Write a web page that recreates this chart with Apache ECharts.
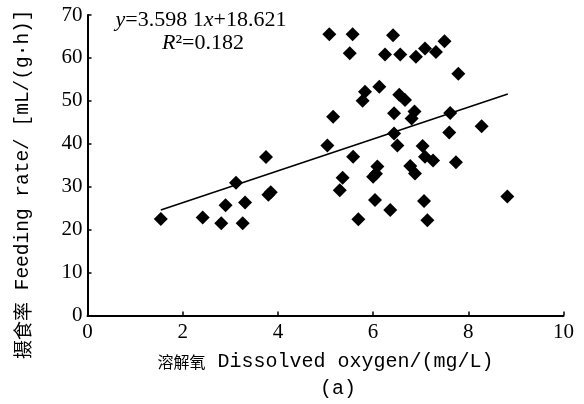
<!DOCTYPE html>
<html><head><meta charset="utf-8">
<script src="https://cdn.jsdelivr.net/npm/echarts@6/dist/echarts.min.js"></script>
<style>html,body{margin:0;padding:0;background:#fff}#c{width:584px;height:404px}</style>
</head><body><div id="c"></div>
<script>
// Dissolved oxygen (mg/L)
const oxygen = [1.54,2.42,2.81,2.90,3.12,3.26,3.31,3.75,3.80,3.85,
  5.08,5.57,6.42,5.51,6.25,6.57,6.90,7.09,7.32,7.50,
  7.79,6.13,5.83,5.78,6.55,6.67,6.44,6.87,6.81,5.16,
  6.44,7.62,7.60,8.28,7.04,5.04,6.51,7.09,5.58,6.09,
  6.00,6.06,6.78,6.88,5.36,5.30,6.04,6.36,5.69,7.07,
  7.14,7.26,7.74,8.82];
// Feeding rate mL/(g·h)
const feeding = [22.5,22.8,21.5,25.7,30.9,21.5,26.3,36.9,28.1,28.7,
  65.5,65.5,65.3,61.1,60.8,60.8,60.3,62.2,61.4,63.9,
  56.3,53.3,52.1,50.0,51.4,50.2,47.1,47.5,45.9,46.3,
  42.4,47.2,42.6,44.1,39.5,39.6,39.6,37.0,37.0,34.7,
  32.3,33.0,34.8,33.1,32.1,29.2,26.9,24.6,22.4,26.7,
  22.2,36.1,35.7,27.7];
// Fitted line end points as drawn
const trendX = [1.54, 8.83];
const trendY = [24.6, 51.6];
const xMin = 0, xMax = 10, xStep = 2;
const yMin = 0, yMax = 70, yStep = 10;
const xName = '溶解氧 Dissolved oxygen/(mg/L)';
const yName = '摄食率 Feeding rate/ [mL/(g·h)]';
const eqLine1 = ['y', '=3.598 1', 'x', '+18.621'];
const eqLine2 = ['R', '²=0.182'];
const panel = '(a)';

const chart = echarts.init(document.getElementById('c'), null, {renderer: 'canvas'});
const serif = 'Liberation Serif';
const mono = 'Liberation Mono';
const cjk = 'Noto Sans CJK SC';

function splitName(s){ const i = s.indexOf(' '); return [s.slice(0,i), s.slice(i)]; }
const [xc, xl] = splitName(xName);
const [yc, yl] = splitName(yName);

const option = {
  animation: false,
  backgroundColor: '#fff',
  grid: {left: 87.5, right: 20.5, top: 15, bottom: 88.5, containLabel: false},
  xAxis: {
    type: 'value', min: xMin, max: xMax, interval: xStep,
    axisLine: {show: true, lineStyle: {color: '#000', width: 2}},
    axisTick: {show: true, inside: true, length: 4, lineStyle: {color: '#000', width: 1.5}},
    axisLabel: {color: '#000', fontFamily: serif, fontSize: 21, margin: 6},
    splitLine: {show: false},
    name: '{c|' + xc + '}{l|' + xl + '}',
    nameLocation: 'middle', nameGap: 35,
    nameTextStyle: {rich: {
      c: {fontFamily: cjk, fontSize: 16, color: '#000', verticalAlign: 'middle', lineHeight: 22},
      l: {fontFamily: mono, fontSize: 20, color: '#000', verticalAlign: 'middle', lineHeight: 22}
    }}
  },
  yAxis: {
    type: 'value', min: yMin, max: yMax, interval: yStep,
    axisLine: {show: true, lineStyle: {color: '#000', width: 2}},
    axisTick: {show: true, inside: true, length: 4, lineStyle: {color: '#000', width: 1.5}},
    axisLabel: {color: '#000', fontFamily: serif, fontSize: 21, margin: 5},
    splitLine: {show: false},
    name: '{c|' + yc + '}{l|' + yl + '}',
    nameLocation: 'middle', nameGap: 54,
    nameTextStyle: {padding: [0, 38, 0, 0], rich: {
      c: {fontFamily: cjk, fontSize: 19, color: '#000', verticalAlign: 'middle', lineHeight: 22},
      l: {fontFamily: mono, fontSize: 19.5, color: '#000', verticalAlign: 'middle', lineHeight: 22}
    }}
  },
  series: [
    {
      type: 'scatter',
      data: oxygen.map((x, i) => [x, feeding[i]]),
      symbol: 'diamond', symbolSize: 14,
      itemStyle: {color: '#000', opacity: 1},
      z: 3
    },
    {
      type: 'line',
      data: trendX.map((x, i) => [x, trendY[i]]),
      showSymbol: false, symbol: 'none',
      lineStyle: {color: '#000', width: 1.6},
      z: 2
    }
  ],
  graphic: [
    {
      type: 'text', x: 201, y: 20,
      style: {
        text: '{i|' + eqLine1[0] + '}{n|' + eqLine1[1] + '}{i|' + eqLine1[2] + '}{n|' + eqLine1[3] + '}',
        align: 'center', verticalAlign: 'middle',
        rich: {
          i: {fontFamily: serif, fontStyle: 'italic', fontSize: 22, fill: '#000'},
          n: {fontFamily: serif, fontSize: 22, fill: '#000'}
        }
      }
    },
    {
      type: 'text', x: 203, y: 43,
      style: {
        text: '{i|' + eqLine2[0] + '}{n|' + eqLine2[1] + '}',
        align: 'center', verticalAlign: 'middle',
        rich: {
          i: {fontFamily: serif, fontStyle: 'italic', fontSize: 22, fill: '#000'},
          n: {fontFamily: serif, fontSize: 22, fill: '#000'}
        }
      }
    },
    {
      type: 'text', x: 338, y: 389,
      style: {text: panel, align: 'center', verticalAlign: 'middle', fontFamily: mono, fontSize: 20, fill: '#000'}
    }
  ]
};
chart.setOption(option);
</script></body></html>
